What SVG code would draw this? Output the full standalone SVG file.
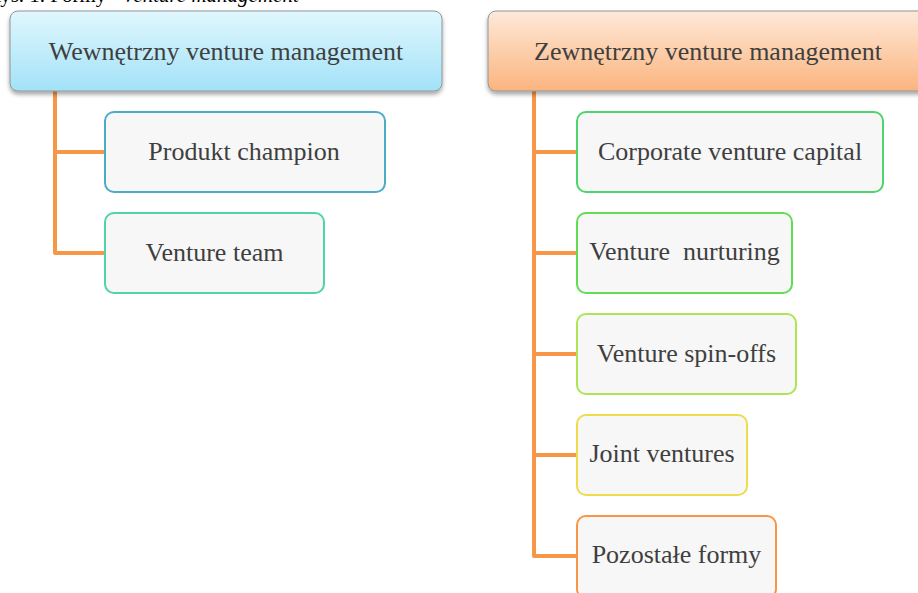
<svg xmlns="http://www.w3.org/2000/svg" width="918" height="593" viewBox="0 0 918 593">
  <style>
    .lbl { font-family: "Liberation Serif", "Times New Roman", serif; font-size: 26px; fill: #3f3f3f; text-anchor: middle; }
    .cap { font-family: "Liberation Serif", "Times New Roman", serif; font-size: 21px; fill: #000; }
    .child { fill: #f7f7f7; stroke-width: 2; }
    .head { stroke: #8e9598; stroke-width: 1; filter: url(#shadow); }
    .conn { fill: none; stroke: #f79646; stroke-width: 4; stroke-linejoin: round; }
  </style>
  <defs>
    <linearGradient id="gBlue" x1="0" y1="0" x2="0" y2="1">
      <stop offset="0" stop-color="#e0f7fd"/>
      <stop offset="1" stop-color="#a3e2f8"/>
    </linearGradient>
    <linearGradient id="gOrange" x1="0" y1="0" x2="0" y2="1">
      <stop offset="0" stop-color="#fee9d9"/>
      <stop offset="1" stop-color="#fbb47e"/>
    </linearGradient>
    <filter id="shadow" x="-5%" y="-10%" width="110%" height="130%">
      <feDropShadow dx="0" dy="3" stdDeviation="2" flood-color="#000" flood-opacity="0.35"/>
    </filter>
  </defs>
  <rect width="918" height="593" fill="#ffffff"/>

  <text class="cap" x="-13" y="2">Rys. 1. Formy <tspan x="124" font-style="italic">venture management</tspan></text>

  <g id="connectors">
    <path class="conn" d="M55 91 V253 H105 M55 152 H105"/>
    <path class="conn" d="M534 91 V556 H577 M534 152 H577 M534 253 H577 M534 354 H577 M534 455 H577"/>
  </g>

  <g id="wewnetrzny">
    <rect class="head" x="10" y="11" width="432" height="80" rx="8" fill="url(#gBlue)"/>
    <text class="lbl" x="226" y="60">Wewnętrzny venture management</text>
  </g>
  <g id="zewnetrzny">
    <rect class="head" x="488" y="11" width="440" height="80" rx="8" fill="url(#gOrange)"/>
    <text class="lbl" x="708" y="60">Zewnętrzny venture management</text>
  </g>

  <g id="produkt-champion">
    <rect class="child" x="105" y="112" width="280" height="80" rx="9" stroke="#4bacc6"/>
    <text class="lbl" x="244" y="160">Produkt champion</text>
  </g>
  <g id="venture-team">
    <rect class="child" x="105" y="213" width="219" height="80" rx="9" stroke="#4fd3ad"/>
    <text class="lbl" x="214.5" y="261">Venture team</text>
  </g>

  <g id="corporate-venture-capital">
    <rect class="child" x="577" y="112" width="306" height="80" rx="9" stroke="#4fd36f"/>
    <text class="lbl" x="730" y="160">Corporate venture capital</text>
  </g>
  <g id="venture-nurturing">
    <rect class="child" x="577" y="213" width="215" height="80" rx="9" stroke="#63dc55"/>
    <text class="lbl" x="684.5" y="260" xml:space="preserve">Venture  nurturing</text>
  </g>
  <g id="venture-spin-offs">
    <rect class="child" x="577" y="314" width="219" height="80" rx="9" stroke="#aee554"/>
    <text class="lbl" x="686.5" y="362">Venture spin-offs</text>
  </g>
  <g id="joint-ventures">
    <rect class="child" x="577" y="415" width="170" height="80" rx="9" stroke="#eedb4e"/>
    <text class="lbl" x="662" y="462">Joint ventures</text>
  </g>
  <g id="pozostale-formy">
    <rect class="child" x="577" y="516" width="199" height="82" rx="9" stroke="#f79646"/>
    <text class="lbl" x="676.5" y="563">Pozostałe formy</text>
  </g>
</svg>
